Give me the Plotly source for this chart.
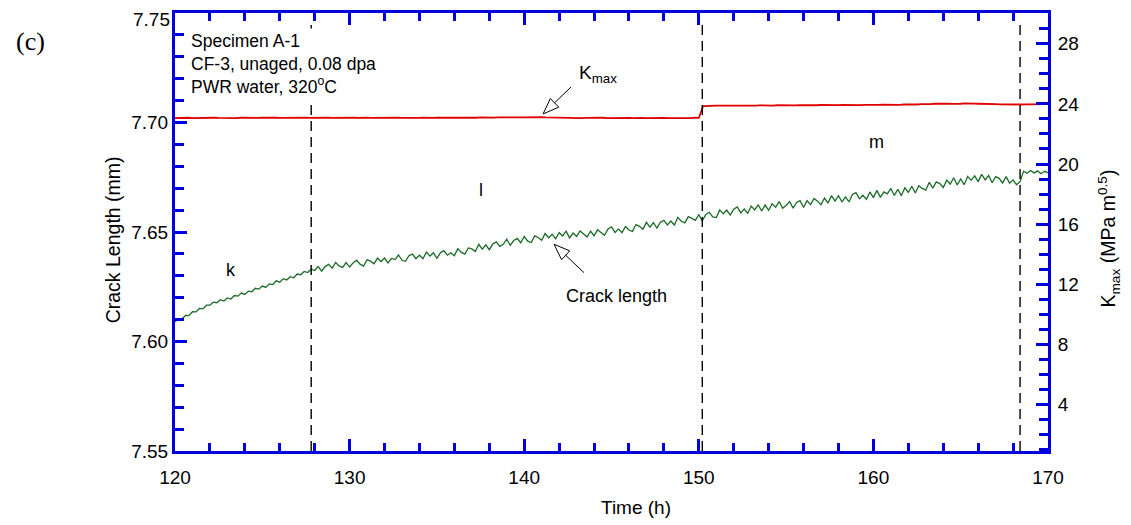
import plotly.graph_objects as go

# ---------------- data ----------------
time_start = 120.0
crack_dt = 0.2          # h between crack-length samples
kmax_dt = 0.25          # h between Kmax samples

crack_length_mm = [
    7.6090, 7.6102, 7.6103, 7.6119, 7.6118, 7.6136, 7.6135, 7.6151, 7.6149, 7.6166,
    7.6166, 7.6180, 7.6177, 7.6191, 7.6185, 7.6199, 7.6194, 7.6210, 7.6207, 7.6221,
    7.6215, 7.6230, 7.6227, 7.6243, 7.6239, 7.6253, 7.6247, 7.6263, 7.6260, 7.6277,
    7.6271, 7.6287, 7.6281, 7.6296, 7.6291, 7.6308, 7.6305, 7.6320, 7.6315, 7.6330,
    7.6324, 7.6342, 7.6321, 7.6342, 7.6352, 7.6335, 7.6361, 7.6345, 7.6338, 7.6360,
    7.6340, 7.6359, 7.6371, 7.6353, 7.6344, 7.6373, 7.6367, 7.6355, 7.6381, 7.6365,
    7.6381, 7.6359, 7.6379, 7.6374, 7.6395, 7.6371, 7.6366, 7.6392, 7.6399, 7.6378,
    7.6394, 7.6378, 7.6408, 7.6390, 7.6405, 7.6380, 7.6405, 7.6415, 7.6394, 7.6405,
    7.6392, 7.6424, 7.6407, 7.6399, 7.6427, 7.6423, 7.6411, 7.6444, 7.6422, 7.6441,
    7.6419, 7.6445, 7.6455, 7.6434, 7.6444, 7.6467, 7.6439, 7.6461, 7.6471, 7.6451,
    7.6480, 7.6458, 7.6452, 7.6482, 7.6475, 7.6462, 7.6493, 7.6474, 7.6490, 7.6469,
    7.6497, 7.6482, 7.6504, 7.6473, 7.6495, 7.6480, 7.6505, 7.6493, 7.6477, 7.6504,
    7.6483, 7.6510, 7.6496, 7.6485, 7.6514, 7.6523, 7.6498, 7.6513, 7.6497, 7.6525,
    7.6509, 7.6503, 7.6534, 7.6526, 7.6513, 7.6544, 7.6522, 7.6543, 7.6518, 7.6545,
    7.6553, 7.6532, 7.6550, 7.6532, 7.6567, 7.6549, 7.6542, 7.6570, 7.6562, 7.6553,
    7.6579, 7.6551, 7.6580, 7.6590, 7.6569, 7.6566, 7.6601, 7.6583, 7.6600, 7.6577,
    7.6604, 7.6614, 7.6587, 7.6605, 7.6585, 7.6618, 7.6601, 7.6624, 7.6597, 7.6623,
    7.6599, 7.6629, 7.6613, 7.6639, 7.6608, 7.6621, 7.6639, 7.6609, 7.6635, 7.6643,
    7.6612, 7.6643, 7.6625, 7.6653, 7.6641, 7.6625, 7.6655, 7.6632, 7.6666, 7.6641,
    7.6666, 7.6638, 7.6660, 7.6637, 7.6671, 7.6680, 7.6652, 7.6668, 7.6649, 7.6683,
    7.6657, 7.6690, 7.6658, 7.6683, 7.6674, 7.6699, 7.6667, 7.6695, 7.6666, 7.6702,
    7.6681, 7.6709, 7.6678, 7.6711, 7.6699, 7.6691, 7.6727, 7.6700, 7.6729, 7.6721,
    7.6703, 7.6737, 7.6719, 7.6748, 7.6715, 7.6742, 7.6716, 7.6754, 7.6736, 7.6756,
    7.6730, 7.6763, 7.6738, 7.6758, 7.6725, 7.6753, 7.6745, 7.6724, 7.6753, 7.6723,
    7.6738, 7.6716, 7.6730, 7.6778, 7.6768, 7.6781, 7.6770, 7.6779, 7.6766, 7.6777,
    7.6771,
]

kmax_mpa = [
    23.05, 23.07, 23.06, 23.08, 23.06, 23.07, 23.05, 23.07,
    23.06, 23.08, 23.07, 23.06, 23.08, 23.07, 23.06, 23.08,
    23.07, 23.06, 23.08, 23.07, 23.09, 23.07, 23.06, 23.08,
    23.07, 23.08, 23.06, 23.07, 23.08, 23.07, 23.09, 23.07,
    23.08, 23.07, 23.09, 23.08, 23.07, 23.08, 23.06, 23.08,
    23.07, 23.08, 23.07, 23.09, 23.08, 23.07, 23.08, 23.07,
    23.08, 23.06, 23.07, 23.08, 23.07, 23.06, 23.08, 23.07,
    23.07, 23.08, 23.06, 23.07, 23.08, 23.07, 23.09, 23.08,
    23.08, 23.09, 23.08, 23.10, 23.09, 23.08, 23.10, 23.09,
    23.10, 23.09, 23.11, 23.10, 23.11, 23.10, 23.12, 23.11,
    23.11, 23.12, 23.10, 23.11, 23.12, 23.10, 23.09, 23.08,
    23.07, 23.08, 23.06, 23.07, 23.08, 23.06, 23.07, 23.08,
    23.06, 23.07, 23.08, 23.06, 23.07, 23.05, 23.07, 23.06,
    23.07, 23.06, 23.08, 23.07, 23.06, 23.07, 23.08, 23.06,
    23.07, 23.06, 23.05, 23.07, 23.06, 23.07, 23.06, 23.08,
    23.07, 23.86, 23.88, 23.87, 23.89, 23.88, 23.87, 23.89,
    23.88, 23.89, 23.88, 23.90, 23.89, 23.88, 23.90, 23.89,
    23.90, 23.89, 23.91, 23.90, 23.89, 23.91, 23.90, 23.92,
    23.91, 23.90, 23.92, 23.91, 23.93, 23.92, 23.91, 23.93,
    23.92, 23.93, 23.92, 23.94, 23.93, 23.92, 23.94, 23.93,
    23.94, 23.93, 23.95, 23.94, 23.96, 23.95, 23.94, 23.96,
    23.95, 23.97, 23.96, 23.98, 23.97, 23.99, 24.01, 24.02,
    24.03, 24.02, 24.00, 23.99, 24.01, 24.03, 24.04, 24.02,
    24.01, 23.99, 23.98, 23.97, 23.98, 23.97, 23.96, 23.97,
    23.96, 23.97, 23.96, 23.97, 23.98, 23.97, 23.98, 23.97,
    23.98,
]

segment_boundaries_h = [127.8, 150.2, 168.4]
segment_labels = ["k", "l", "m"]
segment_label_x = [123.2, 137.5, 160.2]
segment_label_y = [7.6326, 7.6692, 7.6911]

x_ticks = [120, 130, 140, 150, 160, 170]
y_ticks = [7.55, 7.60, 7.65, 7.70, 7.75]
y_tick_text = ["7.55", "7.60", "7.65", "7.70", "7.75"]
y2_ticks = [4, 8, 12, 16, 20, 24, 28]

# ---------------- style ----------------
AXIS_BLUE = "#0000dd"
GREEN = "#1a6b26"
RED = "#e00000"
FONT = "Liberation Sans, Arial, sans-serif"

fig = go.Figure()

fig.add_trace(go.Scatter(
    x0=time_start, dx=crack_dt, y=crack_length_mm, mode="lines",
    line=dict(color=GREEN, width=1.3), yaxis="y", showlegend=False,
))
fig.add_trace(go.Scatter(
    x0=time_start, dx=kmax_dt, y=kmax_mpa, mode="lines",
    line=dict(color=RED, width=1.8), yaxis="y2", showlegend=False,
))

# dashed segment boundaries
for xb in segment_boundaries_h:
    fig.add_shape(type="line", xref="x", yref="paper", x0=xb, x1=xb, y0=0, y1=0.98,
                  line=dict(color="black", width=1.4, dash="10px,6px"), layer="above")

# hollow arrowheads (pixel-sized, anchored in data coords)
fig.add_shape(type="path", xref="x", yref="y", xsizemode="pixel", ysizemode="pixel",
              xanchor=141.08, yanchor=7.7039,
              path="M 0,0 L 15.7,6.8 L 7.3,15.4 Z M 11.5,11.1 L 28,27",
              line=dict(color="black", width=1), fillcolor="white", layer="above")
fig.add_shape(type="path", xref="x", yref="y", xsizemode="pixel", ysizemode="pixel",
              xanchor=141.71, yanchor=7.6444,
              path="M 0,0 L 15.7,-6.6 L 7.5,-15.4 Z M 11.6,-11.0 L 30,-28.4",
              line=dict(color="black", width=1), fillcolor="white", layer="above")

annots = []
# info box
annots.append(dict(
    x=120.72, y=0.965, xref="x", yref="paper", xanchor="left", yanchor="top",
    text="Specimen A-1<br>CF-3, unaged, 0.08 dpa<br>PWR water, 320<sup>o</sup>C",
    showarrow=False, align="left", bgcolor="white", borderpad=2,
    font=dict(family=FONT, size=17.5, color="black"),
))
for lab, lx, ly in zip(segment_labels, segment_label_x, segment_label_y):
    annots.append(dict(x=lx, y=ly, xref="x", yref="y", text=lab, showarrow=False,
                       font=dict(family=FONT, size=18, color="black")))
annots.append(dict(x=144.2, y=7.7221, xref="x", yref="y", text="K<sub>max</sub>",
                   showarrow=False, font=dict(family=FONT, size=19, color="black")))
annots.append(dict(x=145.31, y=7.6208, xref="x", yref="y", text="Crack length",
                   showarrow=False, font=dict(family=FONT, size=18, color="black")))
# top tick label of the left axis, kept fully inside the page
annots.append(dict(x=120, y=y_ticks[-1], xref="x", yref="y", text=y_tick_text[-1],
                   xanchor="right", yanchor="top", xshift=-4, yshift=5, borderpad=0,
                   showarrow=False, font=dict(family=FONT, size=19, color="black")))
# panel label
annots.append(dict(x=-0.166, y=0.936, xref="paper", yref="paper", text="(c)",
                   xanchor="center", yanchor="middle", showarrow=False,
                   font=dict(family="Liberation Serif, Times New Roman, serif",
                             size=26, color="black")))
# axis titles
annots.append(dict(x=-0.070, y=0.483, xref="paper", yref="paper", text="Crack Length (mm)",
                   xanchor="center", yanchor="middle", textangle=-90, showarrow=False,
                   font=dict(family=FONT, size=19.5, color="black")))
annots.append(dict(x=1.0692, y=0.486, xref="paper", yref="paper",
                   text="K<sub>max</sub> (MPa m<sup>0.5</sup>)",
                   xanchor="center", yanchor="middle", textangle=-90, showarrow=False,
                   font=dict(family=FONT, size=19.5, color="black")))
annots.append(dict(x=0.528, y=-0.128, xref="paper", yref="paper", text="Time (h)",
                   xanchor="center", yanchor="middle", showarrow=False,
                   font=dict(family=FONT, size=19, color="black")))

axis_common = dict(
    showline=True, linecolor=AXIS_BLUE, linewidth=3,
    ticks="inside", tickcolor=AXIS_BLUE, tickwidth=3, ticklen=12,
    showgrid=False, zeroline=False, automargin=False,
    tickfont=dict(family=FONT, size=19, color="black"),
)

# the page body adds an 8 px offset; margins compensate so the plot area
# lands where the reference has it
fig.update_layout(
    width=1131, height=525,
    margin=dict(l=167, r=91, t=5, b=82, autoexpand=False),
    paper_bgcolor="white", plot_bgcolor="white",
    annotations=annots,
    xaxis=dict(**axis_common, range=[120, 170], tickvals=x_ticks, mirror="ticks",
               minor=dict(dtick=2, tick0=120, ticks="inside", ticklen=8,
                          tickwidth=3, tickcolor=AXIS_BLUE, showgrid=False),
               ticklabelstandoff=7),
    yaxis=dict(**axis_common, range=[7.55, 7.75], tickvals=y_ticks[:-1],
               ticktext=y_tick_text[:-1],
               minor=dict(dtick=0.01, tick0=7.55, ticks="inside", ticklen=9,
                          tickwidth=3, tickcolor=AXIS_BLUE, showgrid=False),
               ticklabelstandoff=0),
    yaxis2=dict(**axis_common, range=[0.9, 30.05], tickvals=y2_ticks, overlaying="y",
                side="right",
                minor=dict(dtick=1, tick0=0, ticks="inside", ticklen=9,
                           tickwidth=3, tickcolor=AXIS_BLUE, showgrid=False),
                ticklabelstandoff=3),
)

fig.write_html("out.html")
